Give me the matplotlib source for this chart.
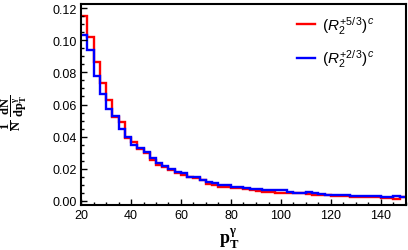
import numpy as np
import matplotlib
matplotlib.use("Agg")
import matplotlib.pyplot as plt

# bin edges for pT^gamma (GeV)
bin_edges = np.arange(20.0, 150.0 + 1e-9, 2.5)

red_values = [
    0.1154, 0.1019, 0.0863, 0.0734, 0.0630, 0.0523, 0.0488, 0.0394, 0.0363, 0.0320,
    0.0298, 0.0256, 0.0222, 0.0207, 0.0193, 0.0172, 0.0158, 0.0145, 0.0141, 0.0127,
    0.0104, 0.0098, 0.0088, 0.0084, 0.0080, 0.0076, 0.0072, 0.0066, 0.0060, 0.0056,
    0.0051, 0.0050, 0.0049, 0.0049, 0.0048, 0.0045, 0.0042, 0.0038, 0.0035, 0.0035,
    0.0029, 0.0028, 0.0027, 0.0023, 0.0022, 0.0025, 0.0024, 0.0020, 0.0019, 0.0018,
    0.0011, 0.0020,
]
blue_values = [
    0.1036, 0.0937, 0.0777, 0.0666, 0.0572, 0.0527, 0.0445, 0.0398, 0.0348, 0.0328,
    0.0305, 0.0264, 0.0232, 0.0215, 0.0196, 0.0182, 0.0175, 0.0150, 0.0145, 0.0131,
    0.0115, 0.0108, 0.0100, 0.0096, 0.0088, 0.0084, 0.0078, 0.0074, 0.0072, 0.0066,
    0.0064, 0.0066, 0.0064, 0.0056, 0.0050, 0.0049, 0.0051, 0.0046, 0.0044, 0.0037,
    0.0035, 0.0035, 0.0034, 0.0031, 0.0031, 0.0028, 0.0028, 0.0031, 0.0026, 0.0025,
    0.0030, 0.0026,
]
red_label = r'$\mathsf{(}R_{\mathsf{2}}^{\mathsf{+5/\,3}}\mathsf{)}^{c}$'
blue_label = r'$\mathsf{(}R_{\mathsf{2}}^{\mathsf{+2/\,3}}\mathsf{)}^{c}$'

x_ticks = [20, 40, 60, 80, 100, 120, 140]
y_ticks = [0.00, 0.02, 0.04, 0.06, 0.08, 0.10, 0.12]

plt.rcParams['font.family'] = ['Liberation Sans', 'DejaVu Sans']
plt.rcParams['mathtext.fontset'] = 'custom'
plt.rcParams['mathtext.rm'] = 'Liberation Serif:bold'
plt.rcParams['mathtext.bf'] = 'Liberation Serif:bold'
plt.rcParams['mathtext.it'] = 'Liberation Sans:italic'
plt.rcParams['mathtext.sf'] = 'Liberation Sans'

fig = plt.figure(figsize=(4.08, 2.51), dpi=100)
ax = fig.add_axes([81 / 408, 1 - 206 / 251, (406 - 81) / 408, (206 - 5) / 251])

ax.stairs(red_values, bin_edges, baseline=None, color='#ff0000', lw=1.7, label=red_label)
ax.stairs(blue_values, bin_edges, baseline=None, color='#0000ff', lw=1.7, label=blue_label)

ax.set_xlim(20, 150)
ax.set_ylim(-0.0027, 0.1227)
ax.set_xticks(x_ticks)
ax.set_xticklabels([str(t) for t in x_ticks])
ax.set_yticks(y_ticks)
ax.set_yticklabels([f'{t:.2f}' for t in y_ticks])
ax.set_xticks(np.arange(20, 151, 5), minor=True)
ax.set_yticks(np.arange(0, 0.1226, 0.005), minor=True)

for s in ax.spines.values():
    s.set_linewidth(1.5)
ax.tick_params(which='both', direction='in', top=False, right=False, labelsize=9, width=1.0, pad=3)
ax.tick_params(which='major', length=4)
ax.tick_params(which='minor', length=2)

leg = ax.legend(loc='upper left', bbox_to_anchor=(0.635, 1.0), frameon=False, fontsize=11,
                handlelength=1.15, handletextpad=0.45, labelspacing=0.75, borderaxespad=0.25)

fig.text(14 / 408, 1 - 113 / 251,
         r'$\mathbf{\dfrac{1}{N}}\ \mathbf{\dfrac{dN}{dp_{T}^{γ}}}$', rotation=90,
         ha='center', va='center', fontsize=9)
fig.text(229 / 408, 1 - 239 / 251, r'$\mathbf{p}_{\mathbf{T}}^{\mathbf{γ}}$',
         ha='center', va='center', fontsize=13)

fig.savefig('out.png', dpi=100)
